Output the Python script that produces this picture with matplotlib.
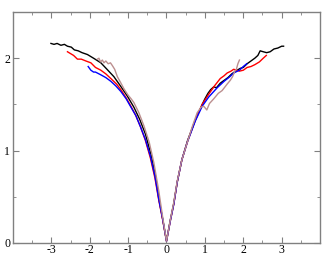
import matplotlib
matplotlib.use('Agg')
import matplotlib.pyplot as plt
from matplotlib.ticker import MultipleLocator

# curves (x, y)
black_x = [-3.01, -2.93, -2.85, -2.75, -2.66, -2.58, -2.48, -2.4, -2.3, -2.2, -2.06, -1.9, -1.71,
           -1.55, -1.37, -1.2, -1.02, -0.85, -0.7, -0.55, -0.4, -0.28, -0.19, -0.1, 0.0,
           0.1, 0.19, 0.28, 0.4, 0.55, 0.75, 0.93, 1.0, 1.08, 1.15, 1.23, 1.3, 1.4, 1.5,
           1.6, 1.7, 1.8, 1.92, 2.0, 2.1, 2.2, 2.3, 2.38, 2.44, 2.52, 2.61, 2.7, 2.8, 2.9,
           3.0, 3.05]
black_y = [2.16, 2.15, 2.16, 2.14, 2.15, 2.13, 2.12, 2.09, 2.08, 2.06, 2.04, 2.0, 1.95,
           1.88, 1.80, 1.70, 1.59, 1.47, 1.34, 1.18, 0.95, 0.71, 0.46, 0.26, 0.02,
           0.25, 0.43, 0.66, 0.9, 1.11, 1.33, 1.50, 1.56, 1.62, 1.66, 1.69, 1.68, 1.73, 1.76,
           1.79, 1.83, 1.86, 1.89, 1.90, 1.94, 1.97, 2.0, 2.03, 2.08, 2.07, 2.06, 2.07, 2.10, 2.11,
           2.13, 2.13]

red_x = [-2.58, -2.5, -2.42, -2.32, -2.22, -2.1, -1.97, -1.85, -1.71, -1.58, -1.45, -1.3, -1.19,
         -1.05, -0.94, -0.8, -0.68, -0.55, -0.42, -0.3, -0.2, -0.1, 0.0, 0.1, 0.19, 0.28, 0.4,
         0.55, 0.75, 0.93, 1.1, 1.25, 1.4, 1.5, 1.58, 1.68, 1.75, 1.83, 1.9, 2.0, 2.1, 2.2,
         2.3, 2.42, 2.52, 2.6]
red_y = [2.07, 2.05, 2.03, 1.99, 1.99, 1.97, 1.95, 1.90, 1.87, 1.83, 1.78, 1.72, 1.66,
         1.57, 1.49, 1.38, 1.26, 1.11, 0.92, 0.70, 0.46, 0.25, 0.02, 0.24, 0.42, 0.66, 0.9,
         1.10, 1.33, 1.50, 1.61, 1.70, 1.78, 1.81, 1.84, 1.86, 1.88, 1.87, 1.86, 1.87, 1.90, 1.91,
         1.93, 1.96, 2.0, 2.03]

blue_x = [-2.04, -1.97, -1.9, -1.85, -1.71, -1.58, -1.45, -1.32, -1.19, -1.05, -0.94, -0.8,
          -0.68, -0.55, -0.42, -0.3, -0.2, -0.1, 0.0, 0.1, 0.19, 0.28, 0.4, 0.55, 0.75, 0.93,
          1.1, 1.32, 1.5, 1.65, 1.75, 1.9, 2.0, 2.09]
blue_y = [1.91, 1.87, 1.85, 1.85, 1.82, 1.79, 1.75, 1.70, 1.64, 1.56, 1.48, 1.38,
          1.26, 1.12, 0.94, 0.72, 0.47, 0.26, 0.02, 0.24, 0.42, 0.66, 0.9, 1.10, 1.32, 1.48,
          1.58, 1.68, 1.75, 1.80, 1.84, 1.87, 1.91, 1.94]

brown_x = [-1.80, -1.76, -1.72, -1.67, -1.63, -1.58, -1.52, -1.46, -1.41, -1.35, -1.28, -1.2,
           -1.11, -1.0, -0.92, -0.85, -0.72, -0.59, -0.45, -0.33, -0.2, -0.1, 0.0, 0.1, 0.19,
           0.28, 0.4, 0.55, 0.68, 0.80, 0.9, 0.97, 1.05, 1.12, 1.23, 1.35, 1.45, 1.58, 1.66,
           1.72, 1.78, 1.82, 1.86, 1.90]
brown_y = [1.99, 2.0, 1.96, 1.98, 1.95, 1.97, 1.94, 1.95, 1.92, 1.88, 1.80, 1.74,
           1.67, 1.60, 1.56, 1.52, 1.41, 1.27, 1.09, 0.87, 0.56, 0.28, 0.02, 0.25, 0.44,
           0.67, 0.9, 1.10, 1.27, 1.41, 1.47, 1.48, 1.44, 1.51, 1.56, 1.62, 1.65, 1.72, 1.76,
           1.80, 1.86, 1.88, 1.94, 1.98]

plt.rcParams['font.family'] = ['Liberation Serif', 'DejaVu Serif']

fig = plt.figure(figsize=(3.32, 2.56), dpi=100)
ax = fig.add_axes([0.039, 0.051, 0.925, 0.902])

ax.plot(black_x, black_y, color='black', lw=1.0)
ax.plot(red_x, red_y, color='red', lw=1.0)
ax.plot(blue_x, blue_y, color='blue', lw=1.0)
ax.plot(brown_x, brown_y, color='#bc8f8f', lw=1.0)

ax.set_xlim(-4, 4)
ax.set_ylim(0, 2.5)
ax.xaxis.set_minor_locator(MultipleLocator(0.5))
ax.yaxis.set_major_locator(MultipleLocator(1))
ax.yaxis.set_minor_locator(MultipleLocator(0.5))
ax.set_xticks([-3, -2, -1, 0, 1, 2, 3])
ax.set_xticklabels(['-3', '-2', '-1', '0', '1', '2', '3'])

for s in ax.spines.values():
    s.set_color('#808080')
    s.set_linewidth(1.0)
ax.tick_params(which='both', direction='in', top=True, right=True, color='#808080',
               labelsize=8.5, pad=2)
ax.tick_params(axis='x', which='both', pad=0.5)
ax.tick_params(which='major', length=4)
ax.tick_params(which='minor', length=2.5)

fig.savefig('out.png', dpi=100)
